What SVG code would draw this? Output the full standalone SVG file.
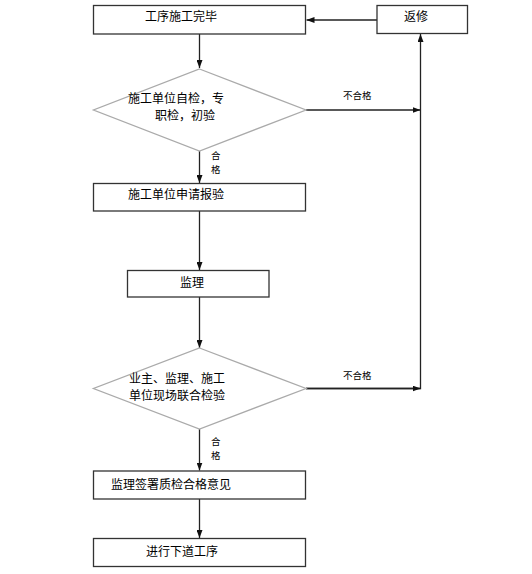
<svg xmlns="http://www.w3.org/2000/svg" width="532" height="574" viewBox="0 0 532 574">
<defs>
<marker id="ah" markerWidth="8" markerHeight="6" refX="8" refY="3" orient="auto" markerUnits="userSpaceOnUse">
<path d="M0,0 L8,3 L0,6 Z" fill="#111"/>
</marker>
<style>
.box{fill:#fff;stroke:#333;stroke-width:1.3}
.dia{fill:#fff;stroke:#aaa;stroke-width:1.3}
.t{font-family:"Liberation Serif","Noto Sans CJK SC",serif;font-size:12px;fill:#000}
.s{font-family:"Liberation Sans","Noto Sans CJK SC",sans-serif;font-size:9.5px;fill:#000}
.c{fill:none;stroke:#222;stroke-width:1.3}
</style>
</defs>
<rect width="532" height="574" fill="#fff"/>
<g id="connectors">
<path class="c" d="M199.5,34 V68" marker-end="url(#ah)"/>
<path class="c" d="M377,20 H306.5" marker-end="url(#ah)"/>
<path class="c" d="M199.5,151 V183" marker-end="url(#ah)"/>
<path class="c" d="M306,110 H420.5" marker-end="url(#ah)"/>
<path class="c" d="M199.5,211 V270" marker-end="url(#ah)"/>
<path class="c" d="M199.5,297 V348" marker-end="url(#ah)"/>
<path class="c" d="M306,388.5 H420.5 V34" marker-end="url(#ah)"/>
<path class="c" d="M306,388.5 H420.5" marker-end="url(#ah)"/>
<path class="c" d="M199.5,429 V470.5" marker-end="url(#ah)"/>
<path class="c" d="M199.5,499 V538" marker-end="url(#ah)"/>
<text class="s" x="343" y="99">不合格</text>
<text class="s" x="343" y="379">不合格</text>
<text class="s" x="211" y="159">合</text>
<text class="s" x="211" y="173">格</text>
<text class="s" x="211" y="445">合</text>
<text class="s" x="211" y="459">格</text>
</g>
<g id="n1"><rect class="box" x="93.5" y="5.5" width="212" height="28.5"/><text class="t" x="145" y="21">工序施工完毕</text></g>
<g id="n_fanxiu"><rect class="box" x="377" y="5.5" width="90.5" height="28"/><text class="t" x="404" y="21">返修</text></g>
<g id="d1"><polygon class="dia" points="199.5,69 306,110 199.5,151 93.5,110"/><text class="t" x="128" y="103">施工单位自检，专</text><text class="t" x="155" y="120">职检，初验</text></g>
<g id="n2"><rect class="box" x="93.5" y="183.5" width="212" height="27.5"/><text class="t" x="128" y="199">施工单位申请报验</text></g>
<g id="n3"><rect class="box" x="127.5" y="270.5" width="141.5" height="26.5"/><text class="t" x="180" y="287">监理</text></g>
<g id="d2"><polygon class="dia" points="199.5,348 306,388.5 199.5,429 93.5,388.5"/><text class="t" x="129" y="383">业主、监理、施工</text><text class="t" x="129" y="400">单位现场联合检验</text></g>
<g id="n4"><rect class="box" x="93.5" y="471" width="212" height="28"/><text class="t" x="111" y="489">监理签署质检合格意见</text></g>
<g id="n5"><rect class="box" x="93.5" y="538.5" width="212" height="28"/><text class="t" x="146" y="556">进行下道工序</text></g>
</svg>
